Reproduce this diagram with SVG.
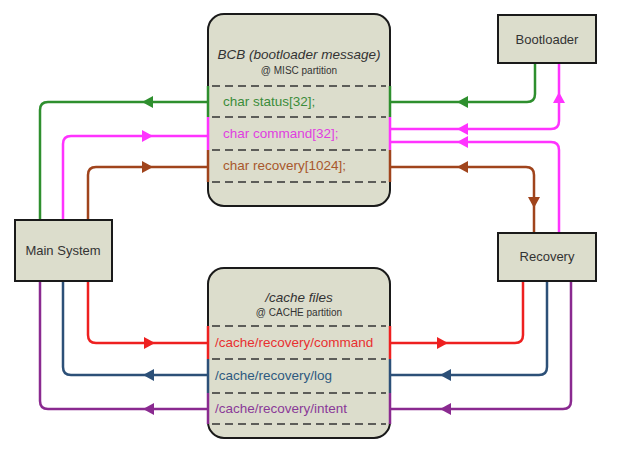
<svg xmlns="http://www.w3.org/2000/svg" width="624" height="453" viewBox="0 0 624 453">
<defs>
<path id="ar" d="M0,0 L-11,-6 L-11,6 Z"/>
<style>
.box{fill:#dcddcc;stroke:#1a1a1a;stroke-width:2}
.dash{stroke:#333;stroke-width:1.3;stroke-dasharray:8,5;fill:none}
.t{font-family:"Liberation Sans",Arial,sans-serif;fill:#333}
.lbl{font-size:13px;text-anchor:middle}
.ttl{font-size:13.5px;font-style:italic;text-anchor:middle}
.sub{font-size:10px;text-anchor:middle}
.fld{font-size:13.5px}
.c{fill:none;stroke-width:2.5}
.g{stroke:#2e8f2e}.gf{fill:#2e8f2e}
.m{stroke:#ff33ff}.mf{fill:#ff33ff}
.b{stroke:#a0441c}.bf{fill:#a0441c}
.r{stroke:#ee2020}.rf{fill:#ee2020}
.u{stroke:#2c5078}.uf{fill:#2c5078}
.p{stroke:#8a2a90}.pf{fill:#8a2a90}
</style>
</defs>
<rect width="624" height="453" fill="#ffffff"/>
<g id="connectors">
<path class="c g" d="M208,102 H48 Q40,102 40,110 V220"/>
<path class="c m" d="M63,220 V144 Q63,136 71,136 H208"/>
<path class="c b" d="M88,220 V175 Q88,167 96,167 H208"/>
<path class="c g" d="M535,63 V94 Q535,102 527,102 H390"/>
<path class="c m" d="M390,129 H551 Q559,129 559,121 V63"/>
<path class="c m" d="M390,142 H551 Q559,142 559,150 V232"/>
<path class="c b" d="M390,167 H526 Q534,167 534,175 V232"/>
<path class="c r" d="M88,281 V335 Q88,343 96,343 H208"/>
<path class="c u" d="M63,281 V367 Q63,375 71,375 H208"/>
<path class="c p" d="M40,281 V401 Q40,409 48,409 H208"/>
<path class="c r" d="M390,343 H515 Q523,343 523,335 V281"/>
<path class="c u" d="M547,281 V367 Q547,375 539,375 H390"/>
<path class="c p" d="M571,281 V401 Q571,409 563,409 H390"/>
<use href="#ar" class="gf" transform="translate(142,102) rotate(180)"/>
<use href="#ar" class="mf" transform="translate(153,136)"/>
<use href="#ar" class="bf" transform="translate(153,167)"/>
<use href="#ar" class="gf" transform="translate(457,102) rotate(180)"/>
<use href="#ar" class="mf" transform="translate(457,129) rotate(180)"/>
<use href="#ar" class="mf" transform="translate(457,142) rotate(180)"/>
<use href="#ar" class="bf" transform="translate(457,167) rotate(180)"/>
<use href="#ar" class="mf" transform="translate(559,92) rotate(-90)"/>
<use href="#ar" class="bf" transform="translate(534,208) rotate(90)"/>
<use href="#ar" class="rf" transform="translate(155,343)"/>
<use href="#ar" class="uf" transform="translate(143,375) rotate(180)"/>
<use href="#ar" class="pf" transform="translate(143,409) rotate(180)"/>
<use href="#ar" class="rf" transform="translate(448,343)"/>
<use href="#ar" class="uf" transform="translate(440,375) rotate(180)"/>
<use href="#ar" class="pf" transform="translate(440,409) rotate(180)"/>
</g>
<g id="bcb">
<rect class="box" x="208" y="14" width="182" height="192" rx="16"/>
<text class="t ttl" x="299" y="59">BCB (bootloader message)</text>
<text class="t sub" x="299" y="74">@ MISC partition</text>
<line class="dash" x1="212" y1="86" x2="386" y2="86"/>
<line class="dash" x1="212" y1="117" x2="386" y2="117"/>
<line class="dash" x1="212" y1="150" x2="386" y2="150"/>
<line class="dash" x1="212" y1="182" x2="386" y2="182"/>
<path class="c g" d="M208,86 V117 M390,86 V117"/>
<path class="c m" d="M208,117 V150 M390,117 V150"/>
<path class="c b" d="M208,150 V182 M390,150 V182"/>
<text class="t fld" x="223" y="106" fill="#3a8c3a" style="fill:#3a8c3a">char status[32];</text>
<text class="t fld" x="223" y="138" style="fill:#e040e0">char command[32];</text>
<text class="t fld" x="223" y="170" style="fill:#a8582c">char recovery[1024];</text>
</g>
<g id="cache">
<rect class="box" x="208" y="268" width="182" height="170" rx="16"/>
<text class="t ttl" x="299" y="302">/cache files</text>
<text class="t sub" x="299" y="316">@ CACHE partition</text>
<line class="dash" x1="212" y1="326" x2="386" y2="326"/>
<line class="dash" x1="212" y1="359" x2="386" y2="359"/>
<line class="dash" x1="212" y1="393" x2="386" y2="393"/>
<line class="dash" x1="212" y1="424" x2="386" y2="424"/>
<path class="c r" d="M208,326 V359 M390,326 V359"/>
<path class="c u" d="M208,359 V393 M390,359 V393"/>
<path class="c p" d="M208,393 V424 M390,393 V424"/>
<text class="t fld" x="215" y="347" style="fill:#e83030">/cache/recovery/command</text>
<text class="t fld" x="215" y="380" style="fill:#2e5a80">/cache/recovery/log</text>
<text class="t fld" x="215" y="413" style="fill:#8a3a98">/cache/recovery/intent</text>
</g>
<g id="main">
<rect class="box" x="15" y="220" width="97" height="61"/>
<text class="t lbl" x="63" y="255">Main System</text>
</g>
<g id="bootloader">
<rect class="box" x="498" y="15" width="98" height="48"/>
<text class="t lbl" x="547" y="44">Bootloader</text>
</g>
<g id="recovery">
<rect class="box" x="498" y="233" width="98" height="48"/>
<text class="t lbl" x="547" y="261">Recovery</text>
</g>
</svg>
